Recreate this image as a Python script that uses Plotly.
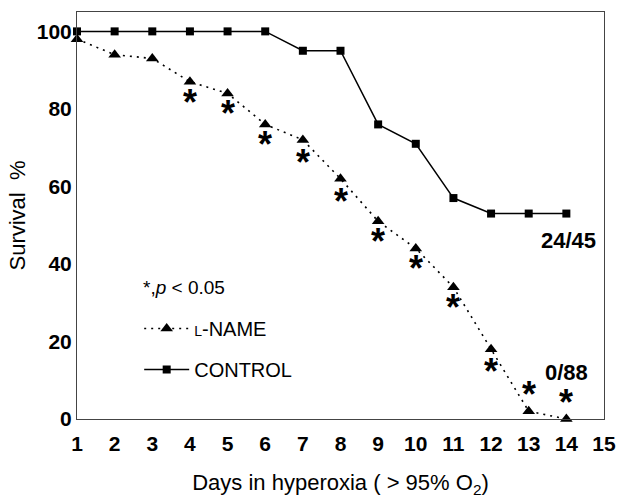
import plotly.graph_objects as go

days = list(range(1, 15))
control = [100, 100, 100, 100, 100, 100, 95, 95, 76, 71, 57, 53, 53, 53]
lname = [98, 94, 93, 87, 84, 76, 72, 62, 51, 44, 34, 18, 2, 0]
star_days = [4, 5, 6, 7, 8, 9, 10, 11, 12, 13, 14]
star_y = [82, 79, 71, 66.5, 56.5, 46, 39, 29, 12.5, 6.6, 4.5]
x_ticks = list(range(1, 16))
y_ticks = [0, 20, 40, 60, 80, 100]

FONT = "Liberation Sans, Arial, Helvetica, sans-serif"

fig = go.Figure()
fig.add_trace(go.Scatter(
    x=days, y=lname, mode="lines+markers",
    name="<span style='font-size:14px'>L</span>-NAME",
    line=dict(color="black", width=1.6, dash="2px,5px"),
    marker=dict(symbol="triangle-up", size=11, color="black"),
    legendgroup="a", cliponaxis=False,
))
fig.add_trace(go.Scatter(
    x=days, y=control, mode="lines+markers", name="CONTROL",
    line=dict(color="black", width=1.5),
    marker=dict(symbol="square", size=8, color="black"),
    legendgroup="b", cliponaxis=False,
))

for d, v in zip(star_days, star_y):
    fig.add_annotation(x=d, y=v, text="<b>*</b>", showarrow=False,
                       yshift=-1, font=dict(size=36, color="black", family=FONT))

fig.add_annotation(x=14.05, y=46, text="<b>24/45</b>", showarrow=False,
                   font=dict(size=22, color="black", family=FONT))
fig.add_annotation(x=14.0, y=12, text="<b>0/88</b>", showarrow=False,
                   font=dict(size=22, color="black", family=FONT))
fig.add_annotation(xref="paper", yref="paper", x=0.122, y=0.324,
                   xanchor="left", yanchor="middle",
                   text="*,<i>p</i> < 0.05", showarrow=False,
                   font=dict(size=19, color="black", family=FONT))

fig.update_layout(
    width=619, height=500,
    margin=dict(l=77, r=15, t=12, b=81),
    paper_bgcolor="white", plot_bgcolor="white",
    font=dict(family=FONT, color="black"),
    showlegend=True,
    legend=dict(x=0.118, y=0.172, xanchor="left", yanchor="middle",
                bgcolor="rgba(0,0,0,0)", traceorder="grouped",
                tracegroupgap=12, itemwidth=45,
                font=dict(size=20, family=FONT, color="black")),
    xaxis=dict(range=[1, 15], tickvals=x_ticks, showgrid=False, zeroline=False,
               showline=True, linecolor="#444", linewidth=1, mirror=True,
               automargin=False,
               ticks="outside", ticklen=6, tickcolor="rgba(0,0,0,0)",
               tickfont=dict(size=21, family=FONT, weight="bold"),
               title=dict(text="Days in hyperoxia ( > 95% O<sub>2</sub>)",
                          font=dict(size=22, family=FONT), standoff=20)),
    yaxis=dict(range=[0, 105], tickvals=y_ticks, showgrid=False, zeroline=False,
               showline=True, linecolor="#444", linewidth=1, mirror=True,
               automargin=False,
               ticks="", tickfont=dict(size=21, family=FONT, weight="bold"),
               title=dict(text="Survival  %", font=dict(size=22, family=FONT),
                          standoff=5)),
)

fig.write_html("out.html", config={"displayModeBar": False},
               post_script="document.body.style.margin='0px';")
